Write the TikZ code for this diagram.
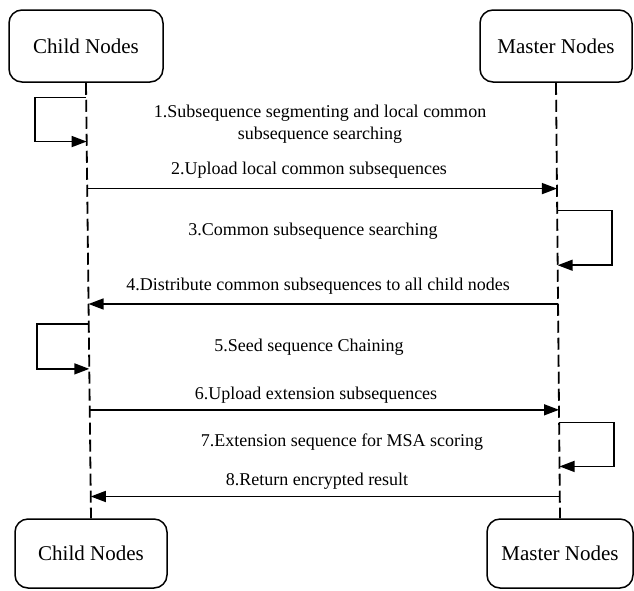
\documentclass[tikz,border=0pt]{standalone}
\usepackage{fontspec}
\setmainfont{Liberation Serif}
\usetikzlibrary{arrows.meta,calc}
\begin{document}
\begin{tikzpicture}[x=1pt,y=-1pt,
  actor/.style={draw,line width=1.5pt,rounded corners=13pt,minimum height=72pt,font=\fontsize{21}{25}\selectfont,inner sep=0pt},
  life/.style={line width=1.8pt,dash pattern=on 12pt off 5pt},
  msg/.style={line width=1.5pt,-{Triangle[length=15pt,width=11pt]}},
  lbl/.style={font=\fontsize{18}{22}\selectfont,align=center,inner sep=0pt}]
\useasboundingbox (0,0) rectangle (634,590);
% actors
\node[actor,minimum width=154pt] (ct) at (86,46) {Child Nodes};
\node[actor,minimum width=152pt] (mt) at (556,46) {Master Nodes};
\node[actor,minimum width=152pt,minimum height=69pt] (cb) at (91,553.5) {Child Nodes};
\node[actor,minimum width=146pt,minimum height=69pt] (mb) at (560,553.5) {Master Nodes};
% lifelines
\draw[life] (ct.south) -- (cb.north);
\draw[life] (mt.south) -- (mb.north);
% points on lifelines
\foreach \n/\f in {a1/0.034,b1/0.135,a2/0.243,a3/0.293,b3/0.419,a4/0.508,a5/0.554,b5/0.657,a6/0.751,a7/0.780,b7/0.881,a8/0.950}{
  \coordinate (c\n) at ($(ct.south)!\f!(cb.north)$);
  \coordinate (m\n) at ($(mt.south)!\f!(mb.north)$);
}
% messages
\draw[msg] (ca1) -- ++(-51,0) |- (cb1);
\draw[msg] (ca2) -- (ma2);
\draw[msg] (ma3) -- ++(55,0) |- (mb3);
\draw[msg] (ma4) -- (ca4);
\draw[msg] (ca5) -- ++(-52,0) |- (cb5);
\draw[msg] (ca6) -- (ma6);
\draw[msg] (ma7) -- ++(55,0) |- (mb7);
\draw[msg] (ma8) -- (ca8);
% labels
\node[lbl] (t1) at (320,124) {1.Subsequence segmenting and local common\\subsequence searching};
\node[lbl] (t2) at (309,170) {2.Upload local common subsequences};
\node[lbl] (t3) at (313,231) {3.Common subsequence searching};
\node[lbl] (t4) at (318,286) {4.Distribute common subsequences to all child nodes};
\node[lbl] (t5) at (309,347) {5.Seed sequence Chaining};
\node[lbl] (t6) at (316,395) {6.Upload extension subsequences};
\node[lbl] (t7) at (342,442) {7.Extension sequence for MSA scoring};
\node[lbl] (t8) at (317,481) {8.Return encrypted result};
\end{tikzpicture}
\end{document}
